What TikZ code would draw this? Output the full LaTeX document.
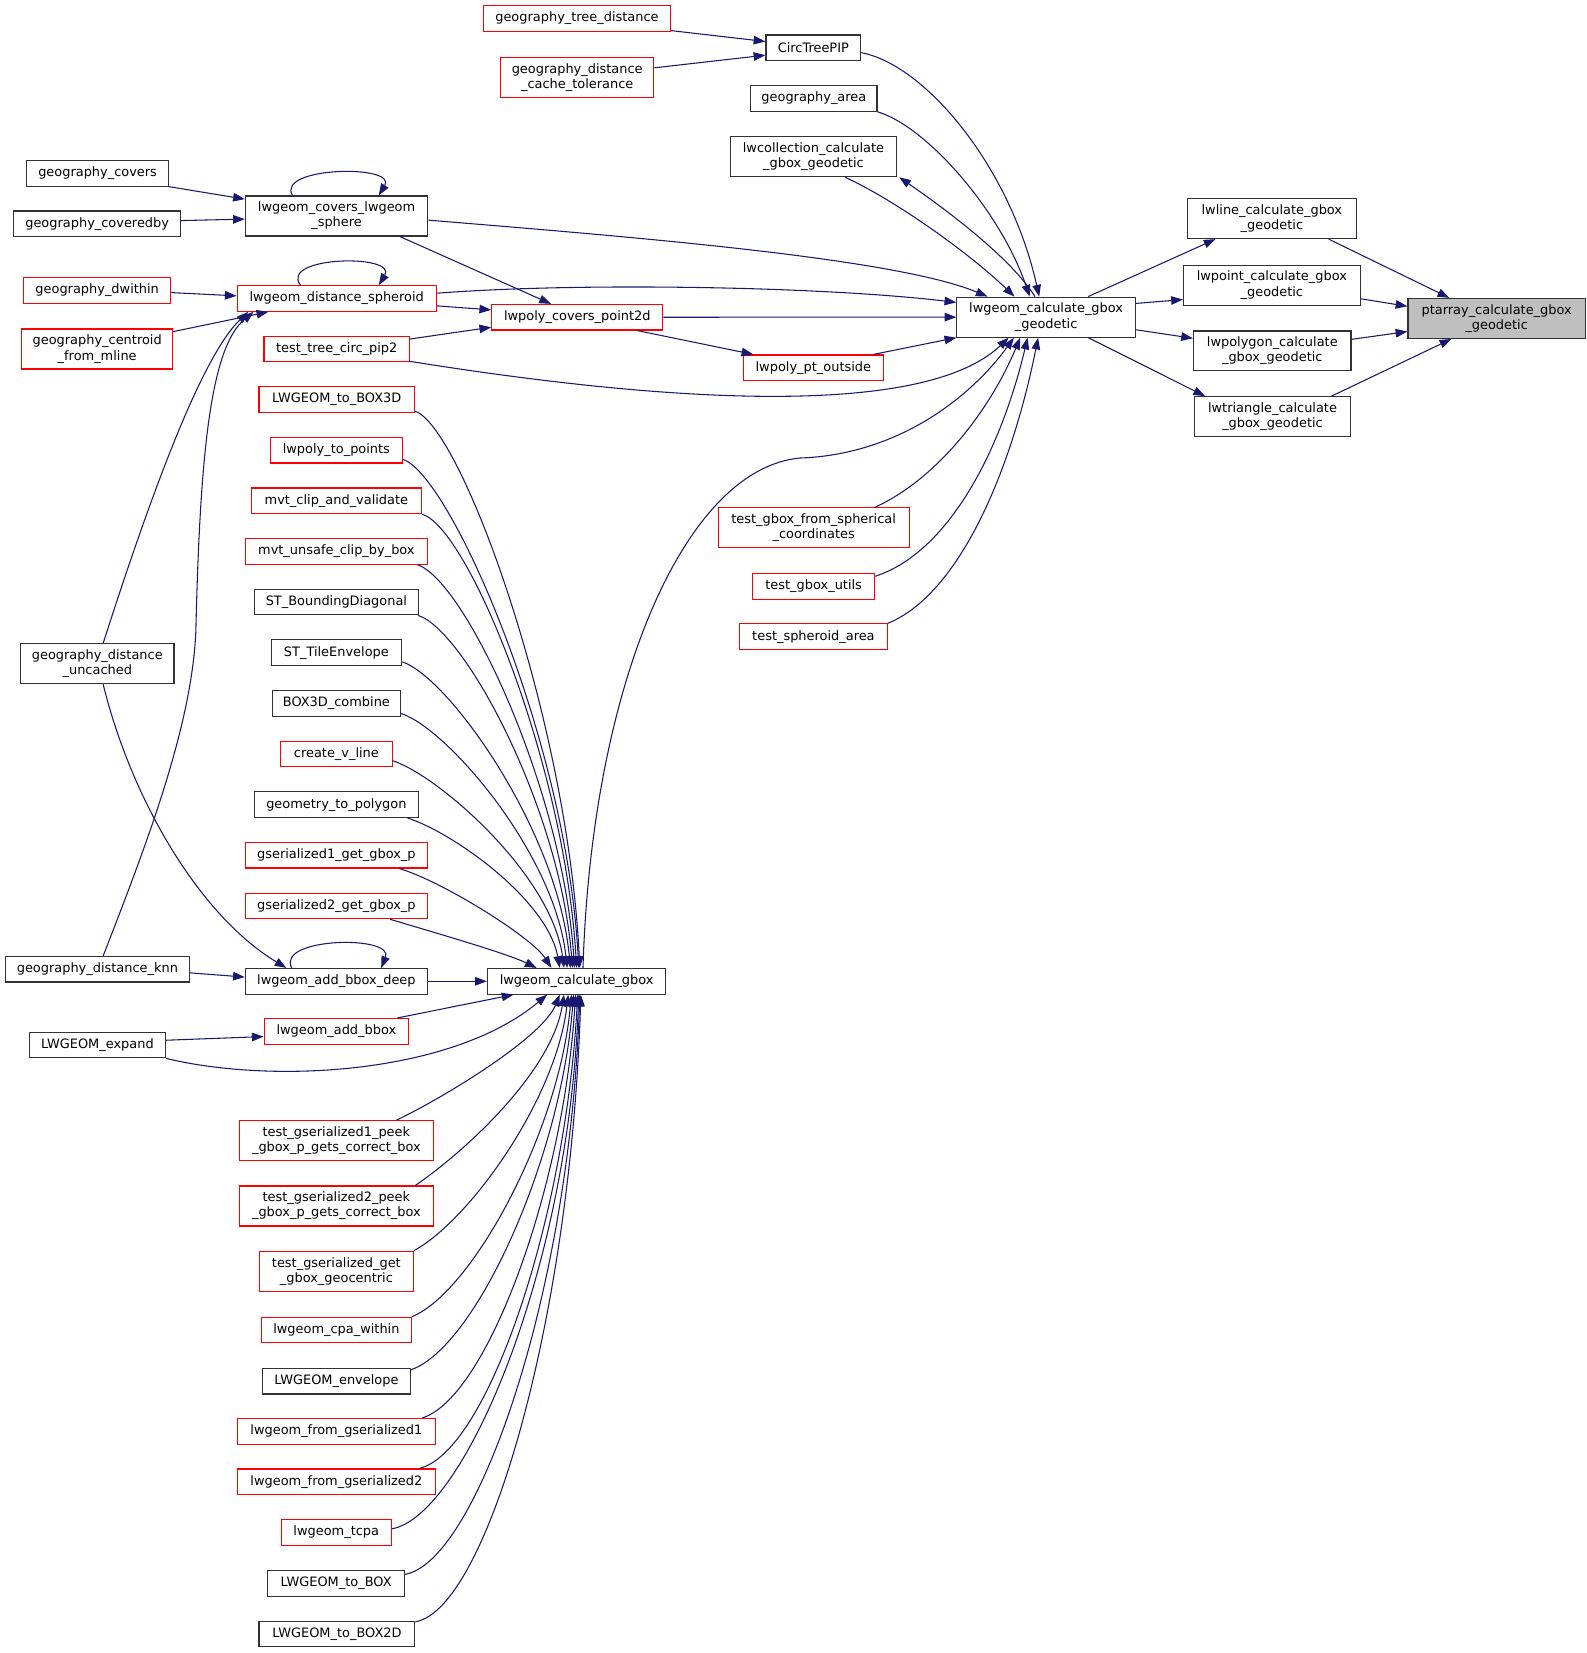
\documentclass[tikz,border=0pt]{standalone}
\usepackage{fontspec}
\setmainfont{DejaVu Sans}
\usetikzlibrary{arrows.meta,calc}
\definecolor{edgeblue}{RGB}{25,25,112}
\definecolor{nodegray}{RGB}{50,50,50}
\definecolor{rootfill}{RGB}{191,191,191}
\tikzset{
  nd/.style={draw, rectangle, inner sep=0pt, align=center, fill=white,
    font=\fontsize{9.7}{11.4}\selectfont, minimum height=19.2pt, line width=0.85pt},
  bk/.style={nd, draw=nodegray},
  rd/.style={nd, draw=red},
  root/.style={nd, draw=nodegray, fill=rootfill},
  two/.style={minimum height=30pt},
  wd/.style={minimum width=#1*0.79pt},
  lk/.style={draw=edgeblue, line width=0.8pt, -{Triangle[length=8.8pt,width=6.4pt]}},
}
\begin{document}
\begin{tikzpicture}[x=0.79pt,y=-0.79pt]
\path[use as bounding box] (0,0) rectangle (1507,1570);

% right part
\node[root,two,wd=168.5] (ptarr) at (1421.5,302.4) {ptarray\_calculate\_gbox\\\_geodetic};
\node[bk,two,wd=160] (lwline) at (1208,207.6) {lwline\_calculate\_gbox\\\_geodetic};
\node[bk,two,wd=168] (lwpoint) at (1208,270.8) {lwpoint\_calculate\_gbox\\\_geodetic};
\node[bk,two,wd=149.6] (lwpolygon) at (1208.4,333.3) {lwpolygon\_calculate\\\_gbox\_geodetic};
\node[bk,two,wd=148] (lwtriangle) at (1208.6,395.8) {lwtriangle\_calculate\\\_gbox\_geodetic};
\node[bk,two,wd=169.6] (lgcg) at (993.6,301.2) {lwgeom\_calculate\_gbox\\\_geodetic};

% column around 772
\node[bk,wd=90] (circ) at (772.5,45.4) {CircTreePIP};
\node[bk,wd=120] (garea) at (773,93.5) {geography\_area};
\node[bk,two,wd=157.7] (lwcoll) at (772.6,148.8) {lwcollection\_calculate\\\_gbox\_geodetic};
\node[rd,wd=133] (ptout) at (772.5,349.3) {lwpoly\_pt\_outside};
\node[rd,two,wd=181.5] (tgbsph) at (772.8,501.4) {test\_gbox\_from\_spherical\\\_coordinates};
\node[rd,wd=116] (tgbu) at (772.8,557) {test\_gbox\_utils};
\node[rd,wd=140] (tsph) at (772.6,604.7) {test\_spheroid\_area};

% column around 548
\node[rd,wd=178] (gtree) at (548,17.4) {geography\_tree\_distance};
\node[rd,two,wd=145.7] (gdct) at (548.2,73.4) {geography\_distance\\\_cache\_tolerance};
\node[rd,wd=162.5] (covp2d) at (548.3,301.3) {lwpoly\_covers\_point2d};
\node[bk,wd=169.5] (lcg) at (547.7,932) {lwgeom\_calculate\_gbox};

% column around 319
\node[bk,two,wd=173.3] (covsph) at (319.7,205.1) {lwgeom\_covers\_lwgeom\\\_sphere};
\node[rd,wd=189] (dsph) at (319.8,283.5) {lwgeom\_distance\_spheroid};
\node[rd,wd=138] (tcirc) at (319.8,331.5) {test\_tree\_circ\_pip2};
\node[rd,wd=147.6] (box3d) at (319.8,379.3) {LWGEOM\_to\_BOX3D};
\node[rd,wd=125] (topoints) at (319.5,427.6) {lwpoly\_to\_points};
\node[rd,wd=162] (mvtcv) at (319.5,475.7) {mvt\_clip\_and\_validate};
\node[rd,wd=173] (mvtucb) at (319.5,523.7) {mvt\_unsafe\_clip\_by\_box};
\node[bk,wd=156] (stbd) at (319.5,571.8) {ST\_BoundingDiagonal};
\node[bk,wd=124] (stte) at (319.5,619.9) {ST\_TileEnvelope};
\node[bk,wd=122] (b3c) at (319.5,668) {BOX3D\_combine};
\node[rd,wd=106] (cvl) at (319.5,716) {create\_v\_line};
\node[bk,wd=156] (g2p) at (319.5,764.2) {geometry\_to\_polygon};
\node[rd,wd=173] (gs1) at (319.5,812.3) {gserialized1\_get\_gbox\_p};
\node[rd,wd=173] (gs2) at (319.5,860.4) {gserialized2\_get\_gbox\_p};
\node[bk,wd=173] (abd) at (319.5,932) {lwgeom\_add\_bbox\_deep};
\node[rd,wd=137] (ab) at (319.5,979.5) {lwgeom\_add\_bbox};
\node[rd,two,wd=184] (tgs1) at (319.5,1083.5) {test\_gserialized1\_peek\\\_gbox\_p\_gets\_correct\_box};
\node[rd,two,wd=184] (tgs2) at (319.5,1145.4) {test\_gserialized2\_peek\\\_gbox\_p\_gets\_correct\_box};
\node[rd,two,wd=146] (tgsgc) at (319.5,1207.4) {test\_gserialized\_get\\\_gbox\_geocentric};
\node[rd,wd=142] (cpa) at (319.5,1263.3) {lwgeom\_cpa\_within};
\node[bk,wd=140] (env) at (319.5,1311.8) {LWGEOM\_envelope};
\node[rd,wd=188] (fg1) at (319.5,1359.4) {lwgeom\_from\_gserialized1};
\node[rd,wd=188] (fg2) at (319.5,1407.4) {lwgeom\_from\_gserialized2};
\node[rd,wd=104.8] (tcpa) at (319.4,1455.6) {lwgeom\_tcpa};
\node[bk,wd=129.6] (tobox) at (319.2,1504) {LWGEOM\_to\_BOX};
\node[bk,wd=148] (tobox2d) at (320,1552) {LWGEOM\_to\_BOX2D};

% left column
\node[bk,wd=134.5] (gcov) at (92.7,164.6) {geography\_covers};
\node[bk,wd=158.4] (gcovby) at (92.3,212.5) {geography\_coveredby};
\node[rd,wd=139.6] (gdw) at (92.3,275.9) {geography\_dwithin};
\node[rd,two,wd=143.2] (gcent) at (92.3,331.5) {geography\_centroid\\\_from\_mline};
\node[bk,two,wd=145.6] (gdu) at (92.4,630.4) {geography\_distance\\\_uncached};
\node[bk,wd=175] (gknn) at (92.5,920.5) {geography\_distance\_knn};
\node[bk,wd=129] (lexp) at (92.5,992.5) {LWGEOM\_expand};

% edges into ptarray
\draw[lk] ($(lwline.south)+(54,0)$) -- ($(ptarr.north)+(-45,0)$);
\draw[lk] ($(lwpoint.east)+(0,13)$) -- ($(ptarr.west)+(0,-11.5)$);
\draw[lk] ($(lwpolygon.east)+(0,-11)$) -- ($(ptarr.west)+(0,12.5)$);
\draw[lk] ($(lwtriangle.north)+(56,0)$) -- ($(ptarr.south)+(-43,0)$);
% lgcg to right column
\draw[lk] ($(lgcg.north)+(40,0)$) -- ($(lwline.south)+(-53.5,0)$);
\draw[lk] ($(lgcg.east)+(0,-13)$) -- ($(lwpoint.west)+(0,13.7)$);
\draw[lk] ($(lgcg.east)+(0,12)$) -- ($(lwpolygon.west)+(0,-12)$);
\draw[lk] ($(lgcg.south)+(40,0)$) -- ($(lwtriangle.north)+(-64,0)$);

% into lgcg
\draw[lk] ($(circ.east)+(0,4.6)$) .. controls (880,62) and (960,160) .. ($(lgcg.north)+(-6.6,0)$);
\draw[lk] (garea.south east) .. controls (880,120) and (950,200) .. ($(lgcg.north)+(-15.6,0)$);
\draw[lk] ($(lwcoll.south)+(30,0)$) .. controls (850,190) and (920,240) .. ($(lgcg.north)+(-30,0)$);
\draw[lk] ($(lgcg.north)+(-10.6,0)$) .. controls (960,245) and (900,200) .. ($(lwcoll.south east)+(2,0)$);
\draw[lk] ($(covsph.east)+(0,4)$) .. controls (600,225) and (850,245) .. ($(lgcg.north)+(-55.6,0)$);
\draw[lk] ($(dsph.east)+(0,-5)$) .. controls (550,268) and (780,272) .. ($(lgcg.west)+(0,-14)$);
\draw[lk] (covp2d.east) -- (lgcg.west);
\draw[lk] ($(ptout.north)+(57,0)$) -- (lgcg.south west);
\draw[lk] ($(tcirc.south east)+(0,-1)$) .. controls (650,385) and (880,395) .. ($(lgcg.south)+(-35.6,0)$);
\draw[lk] ($(lcg.north)+(6,0)$) .. controls (562,650) and (650,445) .. (760,435) .. controls (850,432) and (920,380) .. ($(lgcg.south)+(-30.6,0)$);
\draw[lk] ($(tgbsph.north)+(58,0)$) .. controls (890,455) and (940,390) .. ($(lgcg.south)+(-24.6,0)$);
\draw[lk] ($(tgbu.north east)+(0,3)$) .. controls (900,525) and (950,430) .. ($(lgcg.south)+(-17.6,0)$);
\draw[lk] (tsph.north east) .. controls (910,565) and (960,450) .. ($(lgcg.south)+(-7.6,0)$);

% into CircTreePIP
\draw[lk] ($(gtree.south east)+(0,-1)$) -- ($(circ.west)+(0,-6)$);
\draw[lk] ($(gdct.east)+(0,-9)$) -- ($(circ.west)+(0,7)$);

% covers sphere
\draw[lk] (gcov.south east) -- ($(covsph.west)+(0,-16)$);
\draw[lk] ($(gcovby.east)+(0,-3)$) -- ($(covsph.west)+(0,3)$);
\draw[lk] ($(covsph.north)+(-42,0)$) .. controls (262,158) and (378,156) .. ($(covsph.north)+(40,0)$);
\draw[lk] ($(covsph.south)+(60,0)$) -- ($(covp2d.north)+(-25,0)$);

% distance spheroid
\draw[lk] ($(gdw.east)+(0,2)$) -- ($(dsph.west)+(0,-2.5)$);
\draw[lk] ($(gcent.north east)+(0,3)$) -- ($(dsph.south)+(-65,0)$);
\draw[lk] ($(gdu.north)+(5.6,0)$) .. controls (140,480) and (190,340) .. ($(dsph.south)+(-84,0)$);
\draw[lk] ($(gknn.north)+(5.5,0)$) .. controls (140,800) and (182,690) .. (186,600) .. controls (190,430) and (200,330) .. ($(dsph.south)+(-79,0)$);
\draw[lk] ($(dsph.north)+(-34.5,0)$) .. controls (265,243) and (378,241) .. ($(dsph.north)+(40,0)$);
\draw[lk] ($(dsph.east)+(0,7)$) -- ($(covp2d.west)+(0,-7)$);
\draw[lk] ($(tcirc.east)+(0,-9.5)$) -- ($(covp2d.west)+(0,9.5)$);
\draw[lk] ($(covp2d.south)+(57,0)$) -- ($(ptout.north)+(-57,0)$);

% add bbox deep
\draw[lk] ($(gdu.south)+(5.6,0)$) .. controls (125,760) and (190,870) .. ($(abd.north)+(-47.5,0)$);
\draw[lk] ($(gknn.east)+(0,3.5)$) -- ($(abd.west)+(0,-4)$);
\draw[lk] ($(abd.north)+(-42.5,0)$) .. controls (262,890) and (375,888) .. ($(abd.north)+(42.5,0)$);
\draw[lk] (abd.east) -- (lcg.west);
\draw[lk] ($(lexp.east)+(0,-4.5)$) -- ($(ab.west)+(0,5)$);
\draw[lk] (lexp.south east) .. controls (260,1030) and (430,1020) .. ($(lcg.south)+(-28,0)$);
\draw[lk] ($(ab.north)+(58,0)$) -- ($(lcg.south)+(-60,0)$);

% upper callers of lwgeom_calculate_gbox
\draw[lk] ($(box3d.south east)+(0,-1.5)$) .. controls (438,405) and (539,681) .. ($(lcg.north)+(3,0)$);
\draw[lk] ($(topoints.south east)+(0,-4)$) .. controls (427,450) and (538,702) .. ($(lcg.north)+(2,0)$);
\draw[lk] (mvtcv.south east) .. controls (445,502) and (536,725) .. ($(lcg.north)+(0,0)$);
\draw[lk] ($(mvtucb.south east)+(-10,0)$) .. controls (441,551) and (534,747) .. ($(lcg.north)+(-2,0)$);
\draw[lk] ($(stbd.south east)+(-1,0)$) .. controls (441,598) and (532,768) .. ($(lcg.north)+(-4,0)$);
\draw[lk] ($(stte.south east)+(0,-4)$) .. controls (426,643) and (530,789) .. ($(lcg.north)+(-6,0)$);
\draw[lk] ($(b3c.south east)+(0,-3)$) .. controls (425,692) and (527,811) .. ($(lcg.north)+(-9,0)$);
\draw[lk] ($(cvl.east)+(0,6.5)$) .. controls (417,737) and (524,831) .. ($(lcg.north)+(-12,0)$);
\draw[lk] ($(g2p.south east)+(-11,0)$) .. controls (431,791) and (520,855) .. ($(lcg.north)+(-16,0)$);
\draw[lk] ($(gs1.south)+(60,0)$) .. controls (420,837) and (505,890) .. ($(lcg.north)+(-24,0)$);
\draw[lk] ($(gs2.south)+(51,0)$) .. controls (410,885) and (480,905) .. ($(lcg.north)+(-38,0)$);

% lower callers of lwgeom_calculate_gbox
\draw[lk] ($(tgs1.north)+(57,0)$) .. controls (426,1040) and (515,985) .. ($(lcg.south)+(-16,0)$);
\draw[lk] ($(tgs2.north)+(75,0)$) .. controls (444,1092) and (524,1017) .. ($(lcg.south)+(-12,0)$);
\draw[lk] (tgsgc.north east) .. controls (445,1160) and (528,1045) .. ($(lcg.south)+(-8,0)$);
\draw[lk] (cpa.north east) .. controls (448,1228) and (531,1075) .. ($(lcg.south)+(-5,0)$);
\draw[lk] ($(env.north east)+(0,2)$) .. controls (452,1280) and (533,1100) .. ($(lcg.south)+(-3,0)$);
\draw[lk] ($(fg1.north east)+(-13,0)$) .. controls (462,1328) and (535,1130) .. ($(lcg.south)+(-1,0)$);
\draw[lk] ($(fg2.north east)+(-16,0)$) .. controls (462,1380) and (537,1160) .. ($(lcg.south)+(1,0)$);
\draw[lk] ($(tcpa.east)+(0,-3.6)$) .. controls (440,1440) and (540,1208) .. ($(lcg.south)+(2,0)$);
\draw[lk] ($(tobox.north east)+(0,4)$) .. controls (452,1484) and (541,1231) .. ($(lcg.south)+(3,0)$);
\draw[lk] ($(tobox2d.north east)+(0,1)$) .. controls (462,1529) and (542,1254) .. ($(lcg.south)+(4,0)$);
\end{tikzpicture}
\end{document}
